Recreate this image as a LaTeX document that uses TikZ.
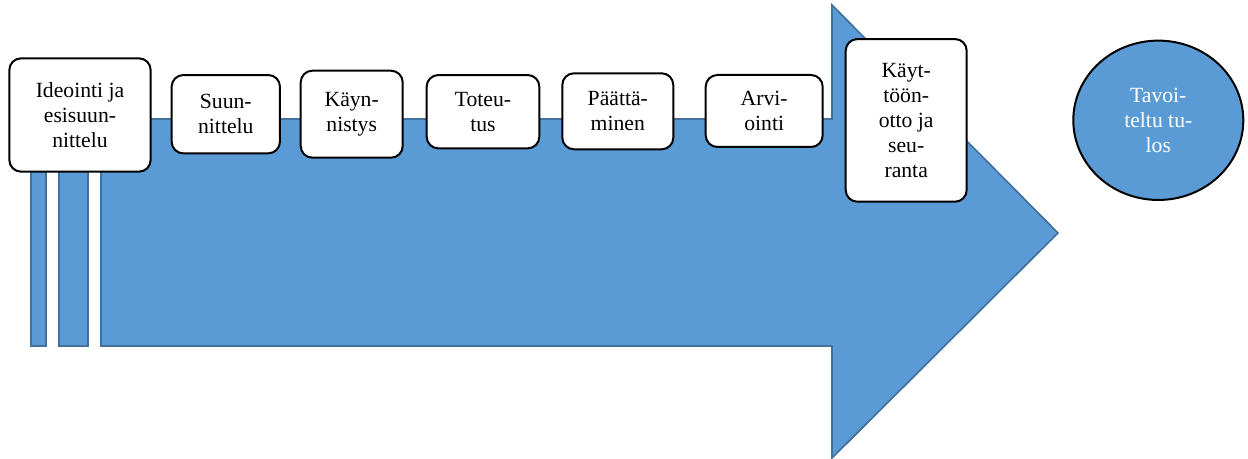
\documentclass[tikz,border=0pt]{standalone}
\usepackage{fontspec}
\setmainfont{Liberation Serif}
\usepackage{tikz}
\usetikzlibrary{shapes.geometric}
\definecolor{arrowblue}{HTML}{5B9BD5}
\definecolor{arrowedge}{HTML}{41719C}
\tikzset{
  phasebox/.style={
    draw=black,
    fill=white,
    shape=rectangle,
    line width=1.2pt,
    rounded corners=7pt,
    align=center,
    inner sep=2pt,
    font=\fontsize{13}{15}\selectfont
  },
  goalellipse/.style={
    draw=black,
    fill=arrowblue,
    shape=ellipse,
    line width=1.2pt,
    align=center,
    inner sep=0pt,
    text=white,
    font=\fontsize{13}{15}\selectfont
  },
  bigarrow/.style={
    draw=arrowedge,
    fill=arrowblue,
    line width=1pt
  },
}

\begin{document}
\begin{tikzpicture}[x=0.6pt,y=-0.6pt]
       \useasboundingbox (0,0) rectangle (1248,459);

       % striped arrow
       \filldraw[bigarrow] (30.7,119) rectangle (45.7,346);
       \filldraw[bigarrow] (58.7,119) rectangle (87.7,346);
       \filldraw[bigarrow] (101,119) -- (832,119) -- (832,5) -- (1058,233)
             -- (832,458) -- (832,346) -- (101,346) -- cycle;

       % phases
       \node[phasebox, minimum width=84.8pt, minimum height=68pt] (ideointi) at (80,115) {Ideointi ja\\esisuun-\\nittelu};
       \node[phasebox, minimum width=65pt, minimum height=47pt] (suunnittelu) at (225.8,114.2) {Suun-\\nittelu};
       \node[phasebox, minimum width=61.2pt, minimum height=52.2pt] (kaynnistys) at (351.7,114.2) {Käyn-\\nistys};
       \node[phasebox, minimum width=67.6pt, minimum height=44pt] (toteutus) at (483,111.7) {Toteu-\\tus};
       \node[phasebox, minimum width=66.6pt, minimum height=45.6pt] (paattaminen) at (617.8,111.3) {Päättä-\\minen};
       \node[phasebox, minimum width=70.2pt, minimum height=43.2pt] (arviointi) at (764.2,111) {Arvi-\\ointi};
       \node[phasebox, minimum width=72.6pt, minimum height=97.6pt] (kayttoonotto) at (906.2,120.4) {Käyt-\\töön-\\otto ja\\seu-\\ranta};

       % goal
       \node[goalellipse, minimum width=102pt, minimum height=95.6pt] (tulos) at (1158.3,120.3) {Tavoi-\\teltu tu-\\los};
   \end{tikzpicture}
\end{document}
